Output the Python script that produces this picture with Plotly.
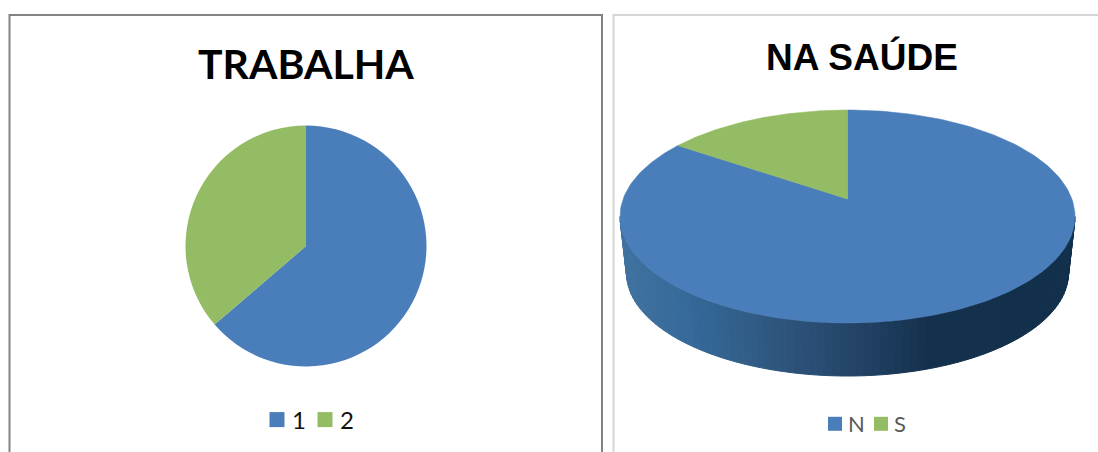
import numpy as np
import plotly.graph_objects as go

# Data
work_labels = ["1", "2"]
work_values = [63.7, 36.3]
health_labels = ["N", "S"]
health_values = [86.6, 13.4]
title_left = "TRABALHA"
title_right = "NA SAÚDE"

BLUE = "#4a7ebb"
GREEN = "#94bc64"
W, H = 1098, 452

fig = go.Figure()

# Left: flat pie
cx1, cy1, r1 = 306, 246, 120.5
fig.add_trace(go.Pie(
    labels=work_labels, values=work_values, sort=False, direction="clockwise", rotation=0,
    marker=dict(colors=[BLUE, GREEN], line=dict(width=0)), textinfo="none", hoverinfo="label+percent",
    domain=dict(x=[(cx1 - r1) / W, (cx1 + r1) / W], y=[(H - cy1 - r1) / H, (H - cy1 + r1) / H]),
    showlegend=False,
))
for label, col in zip(work_labels, [BLUE, GREEN]):
    fig.add_trace(go.Scatter(
        x=[None], y=[None], mode="markers", name=label,
        marker=dict(symbol="square", size=15, color=col), legend="legend",
    ))

# Right: tilted pie projected on hidden axes, angles derived from the values
cx, cy, rx, ry = 847.5, 216.5, 227.5, 106.5
bcy, brx, bry = 273, 221, 103
apex_x, apex_y = 847.5, 199


def top(t):
    return cx + rx * np.sin(t), cy - ry * np.cos(t)


def bottom(t):
    return cx + brx * np.sin(t), bcy - bry * np.cos(t)


stops_x = [627, 690, 780, 850, 930, 1068]
stops_rgb = np.array([[64, 114, 160], [54, 106, 154], [47, 86, 125], [37, 69, 106], [20, 48, 77], [18, 48, 76]])
edges = np.linspace(np.pi / 2, 3 * np.pi / 2, 91)
for a, b in zip(edges[:-1], edges[1:]):
    ts = np.linspace(a, b, 3)
    x1, y1 = top(ts)
    x2, y2 = bottom(ts[::-1])
    xm = (x1.mean() + x2.mean()) / 2
    c = [int(np.interp(xm, stops_x, stops_rgb[:, i])) for i in range(3)]
    col = f"rgb({c[0]},{c[1]},{c[2]})"
    fig.add_trace(go.Scatter(
        x=np.r_[x1, x2, x1[0]], y=np.r_[y1, y2, y1[0]], mode="lines", fill="toself", fillcolor=col,
        line=dict(color=col, width=1), hoverinfo="skip", showlegend=False,
    ))

total = sum(health_values)
start = 0.0
for label, value, col in zip(health_labels, health_values, [BLUE, GREEN]):
    t = np.linspace(start, start + 2 * np.pi * value / total, 240)
    xs, ys = top(t)
    fig.add_trace(go.Scatter(
        x=np.r_[apex_x, xs, apex_x], y=np.r_[apex_y, ys, apex_y], mode="lines", fill="toself", fillcolor=col,
        line=dict(color=col, width=0.5), name=label, hoverinfo="name", showlegend=False,
    ))
    # legend entry for the wedge
    fig.add_trace(go.Scatter(
        x=[None], y=[None], mode="markers", name=label,
        marker=dict(symbol="square", size=14, color=col), legend="legend2",
    ))
    start += 2 * np.pi * value / total

fig.update_layout(
    width=W, height=H, autosize=False,
    margin=dict(l=0, r=0, t=0, b=0),
    paper_bgcolor="white", plot_bgcolor="white",
    xaxis=dict(range=[0, W], visible=False, fixedrange=True),
    yaxis=dict(range=[H, 0], visible=False, fixedrange=True),
    legend=dict(orientation="h", x=257 / W, xanchor="left", y=(H - 420) / H, yanchor="middle",
                font=dict(family="Lato", size=24, color="#111111"), bgcolor="rgba(0,0,0,0)",
                entrywidth=3, entrywidthmode="pixels", tracegroupgap=0, itemwidth=30),
    legend2=dict(orientation="h", x=815 / W, xanchor="left", y=(H - 424) / H, yanchor="middle",
                 font=dict(family="Lato", size=22, color="#595959"), bgcolor="rgba(0,0,0,0)",
                 entrywidth=1, entrywidthmode="pixels", tracegroupgap=0, itemwidth=30),
    shapes=[
        dict(type="path", path="M 9.5 452 L 9.5 15 L 602 15 L 602 452", xref="x", yref="y",
             line=dict(color="#808486", width=2), layer="below"),
        dict(type="path", path="M 613.5 452 L 613.5 15 L 1098 15", xref="x", yref="y",
             line=dict(color="#d6d6d6", width=2), layer="below"),
    ],
    annotations=[
        dict(text=f"<b>{title_left}</b>", x=306, y=63, xref="x", yref="y", showarrow=False,
             font=dict(family="Lato", size=41, color="#000000")),
        dict(text=f"<b>{title_right}</b>", x=862, y=57, xref="x", yref="y", showarrow=False,
             font=dict(family="Liberation Sans", size=37, color="#000000")),
    ],
)

post = (
    "document.body.style.margin='0';document.body.style.overflow='hidden';"
    "var u=function(){document.querySelectorAll('.legend .scrollbox, .legend2 .scrollbox').forEach(function(e){"
    "e.removeAttribute('clip-path');e.style.clipPath='none';});"
    "document.querySelectorAll('.legend .legendtext').forEach(function(t){t.setAttribute('x',35);});"
    "document.querySelectorAll('.legend2 text').forEach(function(t){t.style.transform='translateX(-7px)';});"
    "};"
    "u();[0,100,300,600,1000].forEach(function(d){setTimeout(u,d);});"
)
fig.write_html("out.html", config=dict(displayModeBar=False), post_script=post)
